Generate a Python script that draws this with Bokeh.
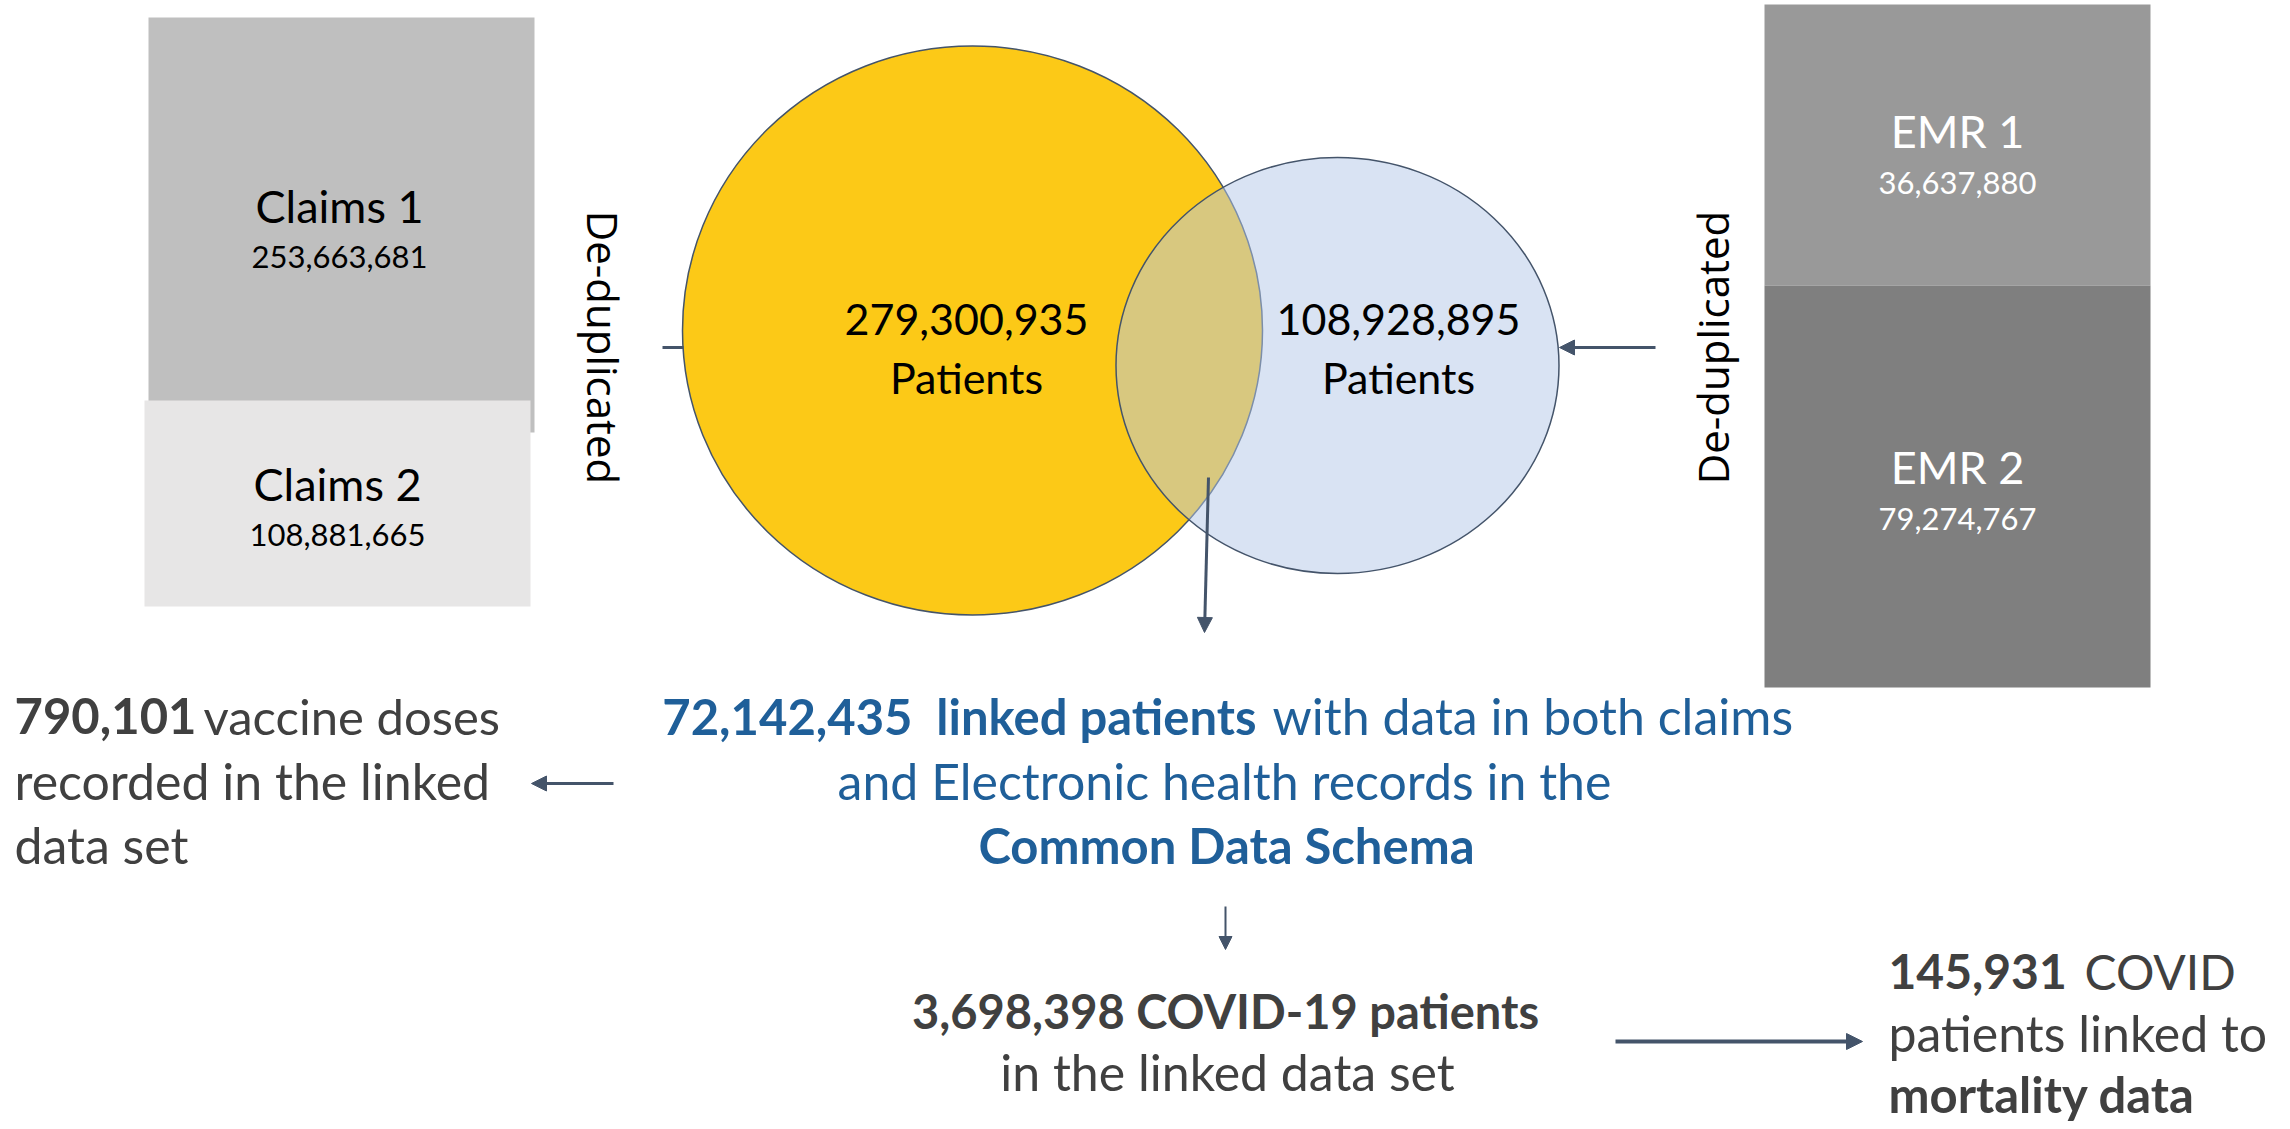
import math
from bokeh.plotting import figure
from bokeh.models import Range1d, Arrow, NormalHead, ColumnDataSource
from bokeh.core.properties import value
from bokeh.embed import file_html
from bokeh.resources import INLINE

# ---------------- data ----------------
source_names = ["Claims 1", "Claims 2", "EMR 1", "EMR 2"]
source_counts = [253663681, 108881665, 36637880, 79274767]
merged_names = ["Claims", "EMR"]
merged_counts = [279300935, 108928895]
linked_patients = 72142435
vaccine_doses = 790101
covid_patients = 3698398
mortality_linked = 145931

def fmt(n):
    return f"{n:,}"

# ---------------- layout (pixel space of the page) ----------------
W, H = 2284, 1125
box_left = [148, 144, 1764, 1764]
box_right = [534, 530, 2150, 2150]
box_top = [17, 400, 4, 285]
box_bottom = [432, 606, 285, 687]
box_fill = ["#BFBFBF", "#E7E6E6", "#999999", "#7F7F7F"]
box_text_color = ["#000000", "#000000", "#FFFFFF", "#FFFFFF"]
box_cx = [339, 337, 1957, 1957]
box_title_y = [221, 499, 146, 482]
box_num_y = [267, 545, 193, 529]

ell_x = [972, 1337]
ell_y = [330, 365]
ell_w = [580, 443]
ell_h = [569, 416]
ell_fill = ["#FCC917", "#B4C7E7"]
ell_alpha = [1.0, 0.5]
ell_text_x = [966, 1398]

DARK = "#44546A"
GREY = "#404040"
BLUE = "#1F5F99"
FONT = value("Lato")
K = 0.35  # baseline correction factor (fraction of font size)

p = figure(width=W, height=H, x_range=Range1d(0, W), y_range=Range1d(H, 0),
           output_backend="svg", toolbar_location=None, min_border=0,
           x_axis_location=None, y_axis_location=None)
p.grid.visible = False
p.outline_line_color = None
p.background_fill_color = "white"

def txt(x, y, s, color, bold=False, size=46, align="left", font=FONT):
    p.text(x=[x], y=[y - K * size], text=[s], text_font=font, text_font_size=f"{size}px",
           text_font_style="bold" if bold else "normal", text_align=align,
           text_baseline="alphabetic", text_color=color)

# source boxes (Claims 1 first so Claims 2 overlaps it)
boxes = ColumnDataSource(dict(left=box_left, right=box_right, top=box_top, bottom=box_bottom,
                              fill=box_fill))
p.quad(left="left", right="right", top="top", bottom="bottom", fill_color="fill",
       line_color=None, source=boxes)

for i, name in enumerate(source_names):
    txt(box_cx[i], box_title_y[i], name, box_text_color[i], size=45, align="center")
    txt(box_cx[i], box_num_y[i], fmt(source_counts[i]), box_text_color[i], size=31, align="center")

# Venn ellipses
for i in range(2):
    p.ellipse(x=[ell_x[i]], y=[ell_y[i]], width=[ell_w[i]], height=[ell_h[i]],
              fill_color=ell_fill[i], fill_alpha=ell_alpha[i], line_color=DARK,
              line_width=1.5, line_alpha=1.0)
for i in range(2):
    txt(ell_text_x[i], 334, fmt(merged_counts[i]), "black", size=43, align="center")
    txt(ell_text_x[i], 392, "Patients", "black", size=43, align="center")

# De-duplicated labels
p.text(x=[603], y=[347], text=["De-duplicated"], angle=-math.pi / 2, text_font=value("Open Sans"),
       text_font_size="42px", text_align="center", text_baseline="middle", text_color="black")
p.text(x=[1712], y=[347], text=["De-duplicated"], angle=math.pi / 2, text_font=value("Open Sans"),
       text_font_size="42px", text_align="center", text_baseline="middle", text_color="black")

# connectors
p.segment(x0=[662], y0=[347], x1=[683], y1=[347], line_color=DARK, line_width=3)

def arrow(x0, y0, x1, y1, w=3, size=15):
    p.add_layout(Arrow(end=NormalHead(size=size, fill_color=DARK, line_color=DARK, line_width=1),
                       x_start=x0, y_start=y0, x_end=x1, y_end=y1,
                       line_color=DARK, line_width=w))

arrow(1655, 347, 1559, 347)
arrow(1208, 477, 1204, 632)
arrow(613, 783, 531, 783)
arrow(1225, 906, 1225, 949, w=2, size=13)
arrow(1615, 1041, 1862, 1041, w=4, size=16)

# vaccine block
txt(14, 733, fmt(vaccine_doses), GREY, bold=True, size=49)
txt(203, 733, "vaccine doses", GREY, size=49)
txt(14, 798, "recorded in the linked", GREY, size=50)
txt(14, 862, "data set", GREY, size=50)

# linked block
txt(1256, 733, fmt(linked_patients) + "\u00a0\u00a0linked patients", BLUE, bold=True, size=49, align="right")
txt(1272, 733, "with data in both claims", BLUE, size=50)
txt(1224, 798, "and Electronic health records in the", BLUE, size=50, align="center")
txt(1226, 862, "Common Data Schema", BLUE, bold=True, size=49, align="center")

# covid block
txt(1225, 1027, fmt(covid_patients) + " COVID-19 patients", GREY, bold=True, size=47, align="center")
txt(1227, 1089, "in the linked data set", GREY, size=50, align="center")

# mortality block
txt(1888, 988, fmt(mortality_linked), GREY, bold=True, size=48)
txt(2084, 988, "COVID", GREY, size=48)
txt(1888, 1050, "patients linked to", GREY, size=50)
txt(1888, 1111, "mortality data", GREY, bold=True, size=49)

open("out.html", "w").write(file_html(p, INLINE))
